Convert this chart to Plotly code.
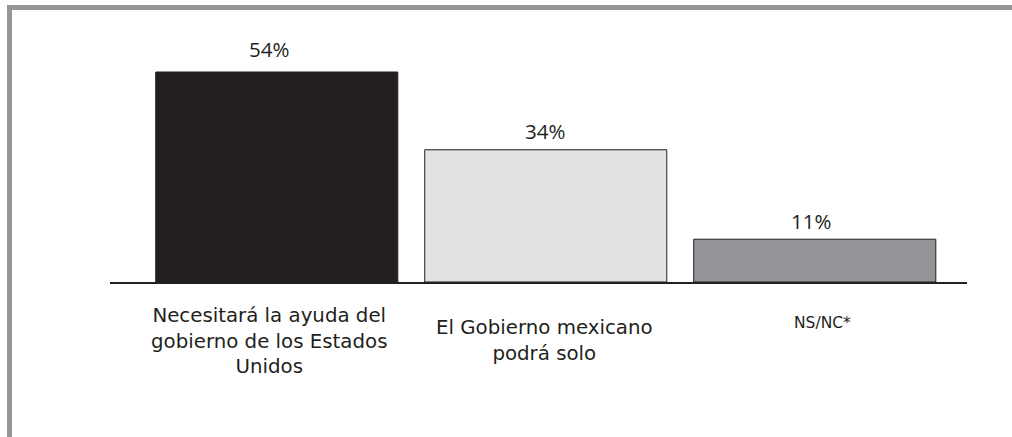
import plotly.graph_objects as go

# Survey answers and their shares (%)
categories = [
    "Necesitará la ayuda del<br>gobierno de los Estados<br>Unidos",
    "El Gobierno mexicano<br>podrá solo",
    "NS/NC*",
]
values = [54, 34, 11]
value_labels = ["54%", "34%", "11%"]
bar_colors = ["#231f20", "#e1e2e3", "#939598"]

W, H = 1012, 437
L, R, T, B = 110, 45, 30, 155
plot_w, plot_h = W - L - R, H - T - B
px_per_pct = 210 / 54
y_top = plot_h / px_per_pct

FONT = "Open Sans"
CAT_FONT = "DejaVu Sans"
INK = "#231f20"
FRAME = "#939598"

x_pos = list(range(len(categories)))

fig = go.Figure(
    go.Bar(
        x=x_pos,
        y=values,
        width=0.9,
        marker=dict(color=bar_colors, line=dict(color=INK, width=1)),
        hoverinfo="skip",
    )
)


def px_x(p):
    return (p - L) / plot_w


def px_y(p):
    return 1 - (p - T) / plot_h


# value labels above each bar
label_shift = [-8, -1, -4]
label_gap = [12, 8, 7]
for i, (v, t) in enumerate(zip(values, value_labels)):
    fig.add_annotation(
        x=x_pos[i], y=v, xref="x", yref="y", text=t, showarrow=False,
        yanchor="bottom", yshift=label_gap[i] - 5, xshift=label_shift[i],
        font=dict(family=FONT, size=20.5, color=INK),
    )

# category labels under the baseline
cat_sizes = [19.8, 19.8, 15.5]
cat_centers = [341, 340, 323]
cat_shift = [-8, -1, 8]
for i, c in enumerate(categories):
    fig.add_annotation(
        x=x_pos[i], y=px_y(cat_centers[i]), xref="x", yref="paper",
        text=c, showarrow=False, yanchor="middle", align="center",
        xshift=cat_shift[i],
        font=dict(family=CAT_FONT, size=cat_sizes[i], color=INK),
    )

# grey frame along the top and left edges
fig.add_shape(type="rect", xref="paper", yref="paper",
              x0=px_x(7), x1=px_x(W + 5), y0=px_y(10), y1=px_y(5),
              fillcolor=FRAME, line=dict(width=0), layer="above")
fig.add_shape(type="rect", xref="paper", yref="paper",
              x0=px_x(7), x1=px_x(12), y0=px_y(H + 5), y1=px_y(5),
              fillcolor=FRAME, line=dict(width=0), layer="above")

fig.update_layout(
    width=W, height=H,
    margin=dict(l=L, r=R, t=T, b=B),
    paper_bgcolor="white", plot_bgcolor="white",
    showlegend=False,
    xaxis=dict(range=[-0.62, 2.566], showticklabels=False, ticks="",
               showgrid=False, zeroline=False, showline=True,
               linecolor=INK, linewidth=2, fixedrange=True),
    yaxis=dict(range=[0, y_top], visible=False, showgrid=False,
               zeroline=False, fixedrange=True),
)

fig.write_html("out.html")
